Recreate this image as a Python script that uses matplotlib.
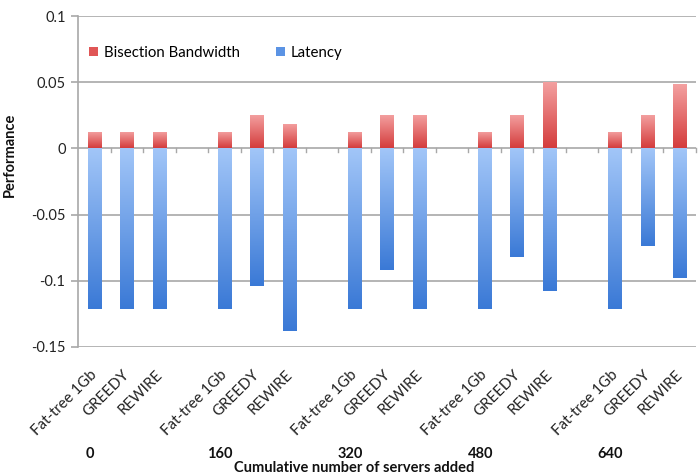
import matplotlib
matplotlib.use("Agg")
import matplotlib.pyplot as plt
import numpy as np
from matplotlib.colors import LinearSegmentedColormap
from matplotlib.patches import Patch

plt.rcParams['font.family'] = ['Lato', 'DejaVu Sans']

groups = ["0", "160", "320", "480", "640"]
schemes = ["Fat-tree 1Gb", "GREEDY", "REWIRE"]

# bisection bandwidth (positive) and latency (negative), per group, per scheme
bandwidth = [
    [0.0125, 0.0125, 0.0125],
    [0.0125, 0.0252, 0.0184],
    [0.0125, 0.0252, 0.0252],
    [0.0125, 0.0252, 0.0503],
    [0.0125, 0.0252, 0.0486],
]
latency = [
    [-0.121, -0.121, -0.121],
    [-0.121, -0.104, -0.138],
    [-0.121, -0.092, -0.121],
    [-0.121, -0.082, -0.108],
    [-0.121, -0.074, -0.098],
]

red_cmap = LinearSegmentedColormap.from_list("r", ["#d43c3c", "#f4a2a2"])
blue_cmap = LinearSegmentedColormap.from_list("b", ["#3a79d6", "#a2c6f8"])

fig = plt.figure(figsize=(7, 4.76), dpi=100)
ax = fig.add_axes([78 / 700, 1 - 347 / 476, 618 / 700, 331 / 476])

# slot positions: 4 slots per group (3 bars + gap), last group without gap
xs, labels = [], []
for g in range(len(groups)):
    for j, s in enumerate(schemes):
        xs.append(4 * g + j + 0.5)
        labels.append(s)
bw = np.array(bandwidth).ravel()
lat = np.array(latency).ravel()

width = 0.41
grad = np.linspace(0, 1, 256).reshape(-1, 1)


def gradient_bars(bars, cmap):
    # light at top, dark at bottom, clipped to each bar
    for p in bars:
        x0, y0 = p.get_x(), p.get_y()
        w, h = p.get_width(), p.get_height()
        ylo, yhi = min(y0, y0 + h), max(y0, y0 + h)
        img = ax.imshow(grad, cmap=cmap, aspect="auto", origin="lower",
                        extent=[x0, x0 + w, ylo, yhi], zorder=3)
        img.set_clip_path(p)


b1 = ax.bar(xs, bw, width, color="#e06060", zorder=2, linewidth=0)
b2 = ax.bar(xs, lat, width, color="#5a8fe0", zorder=2, linewidth=0)
gradient_bars(b1, red_cmap)
gradient_bars(b2, blue_cmap)

ax.set_xlim(0, 19)
ax.set_ylim(-0.15, 0.1)
ax.set_yticks([-0.15, -0.1, -0.05, 0, 0.05, 0.1])
ax.set_yticklabels(["-0.15", "-0.1", "-0.05", "0", "0.05", "0.1"], fontsize=10.5, color="#222222")
ax.yaxis.grid(True, color="#a8a8a8", linewidth=1.2, zorder=0)
ax.set_axisbelow(True)
for side in ["top", "right", "bottom"]:
    ax.spines[side].set_visible(False)
ax.spines["left"].set_color("#a8a8a8")
ax.spines["left"].set_linewidth(1.2)
ax.tick_params(axis="y", length=5, color="#a8a8a8", width=1.2, pad=4)

# category boundary ticks on the zero line
ax.set_xticks([])
for t in range(1, 20):
    ax.plot([t, t], [0, -0.0025], color="#a8a8a8", linewidth=1, zorder=1, clip_on=False)

# rotated category labels
for x, lab in zip(xs, labels):
    ax.annotate(lab, xy=(x, -0.15), xycoords="data", xytext=(4, -15),
                textcoords="offset points", rotation=45, ha="right", va="top",
                fontsize=10.8, color="#222222", annotation_clip=False)

# group labels
for g, name in enumerate(groups):
    ax.annotate(name, xy=(4 * g + 0.5, -0.15), xycoords="data", xytext=(-3, -72),
                textcoords="offset points", ha="center", va="top",
                fontsize=10.5, fontweight="bold", color="#111111", annotation_clip=False)

fig.text(354 / 700, 1 / 476, "Cumulative number of servers added",
         ha="center", va="bottom", fontsize=10.5, fontweight="bold", color="#111111")
fig.text(10 / 700, 1 - 155 / 476, "Performance", rotation=90, ha="center", va="center",
         fontsize=10.5, fontweight="bold", color="#111111")

# legend
handles = [Patch(facecolor="#e05656", label="Bisection Bandwidth"),
           Patch(facecolor="#5b93e4", label="Latency")]
ax.legend(handles=handles, loc="center left", bbox_to_anchor=(0.0, 1 - 37 / 331), ncol=2,
          frameon=False, fontsize=10.8, handlelength=0.6, handleheight=0.6,
          handletextpad=0.4, columnspacing=2.4, borderaxespad=0.3)

fig.savefig("out.png", dpi=100)
